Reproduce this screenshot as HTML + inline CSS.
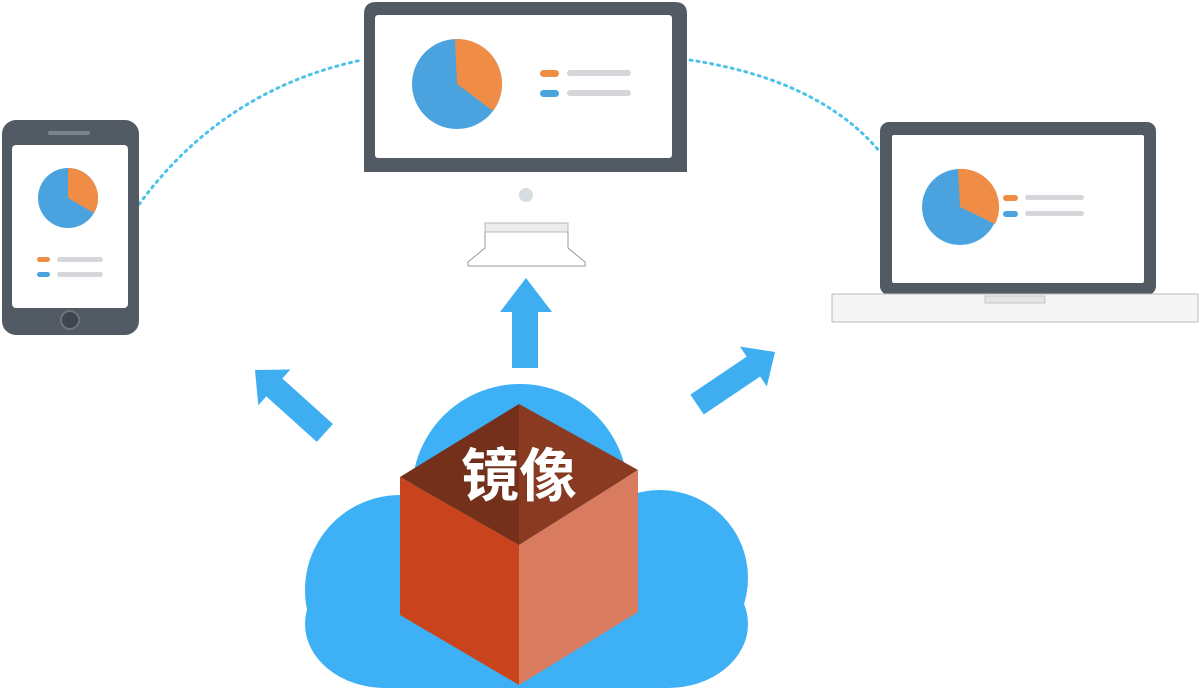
<!DOCTYPE html>
<html><head><meta charset="utf-8"><style>html,body{margin:0;padding:0;background:#fff}svg{display:block}</style></head>
<body>
<svg width="1200" height="690" viewBox="0 0 1200 690" xmlns="http://www.w3.org/2000/svg">
<!-- dotted links -->
<path d="M135 210 Q220 90 362 60" fill="none" stroke="#4cc3e8" stroke-width="3" stroke-dasharray="2 5" stroke-linecap="round"/>
<path d="M690 60 Q820 80 880 152" fill="none" stroke="#4cc3e8" stroke-width="3" stroke-dasharray="2 5" stroke-linecap="round"/>
<!-- phone -->
<rect x="2" y="120" width="137" height="215" rx="14" fill="#525a63"/>
<rect x="12" y="145" width="116" height="163" rx="4" fill="#fff"/>
<rect x="48" y="131" width="42" height="4" rx="2" fill="#7b838b"/>
<circle cx="70" cy="320" r="9" fill="#3e454c" stroke="#6b737b" stroke-width="2"/>
<circle cx="68" cy="198" r="30" fill="#4aa3de"/>
<path d="M68 198 L68 168 A30 30 0 0 1 94 213 Z" fill="#ef8c45"/>
<rect x="37" y="257" width="13" height="5" rx="2.5" fill="#ef8c45"/>
<rect x="57" y="257" width="46" height="5" rx="2.5" fill="#d4d6d9"/>
<rect x="37" y="272" width="13" height="5" rx="2.5" fill="#4aa3de"/>
<rect x="57" y="272" width="46" height="5" rx="2.5" fill="#d4d6d9"/>
<!-- monitor -->
<path d="M364 172 L364 14 Q364 2 376 2 L675 2 Q687 2 687 14 L687 172 Z" fill="#525a63"/>
<rect x="375" y="15" width="297" height="143" rx="3" fill="#fff"/>
<circle cx="457" cy="84" r="45" fill="#4aa3de"/>
<path d="M457 84 L455 39 A45 45 0 0 1 493 111 Z" fill="#ef8c45"/>
<rect x="540" y="70" width="19" height="7" rx="3.5" fill="#ef8c45"/>
<rect x="567" y="70" width="64" height="6" rx="3" fill="#d4d6d9"/>
<rect x="540" y="90" width="19" height="7" rx="3.5" fill="#4aa3de"/>
<rect x="567" y="90" width="64" height="6" rx="3" fill="#d4d6d9"/>
<circle cx="526" cy="195" r="7" fill="#d6dce0"/>
<rect x="485" y="223" width="83" height="9" fill="#ececec" stroke="#aaa" stroke-width="0.8"/>
<path d="M485 232 L485 248 L468 262 L468 266 L585 266 L585 262 L568 248 L568 232" fill="none" stroke="#999" stroke-width="1"/>
<!-- laptop -->
<rect x="880" y="122" width="276" height="173" rx="9" fill="#525a63"/>
<rect x="892" y="135" width="252" height="148" rx="2" fill="#fff"/>
<circle cx="960" cy="207" r="38" fill="#4aa3de"/>
<path d="M960 207 L958 169 A38 38 0 0 1 995 224 Z" fill="#ef8c45"/>
<rect x="1003" y="195" width="15" height="6" rx="3" fill="#ef8c45"/>
<rect x="1025" y="195" width="59" height="5" rx="2.5" fill="#d4d6d9"/>
<rect x="1003" y="211" width="15" height="6" rx="3" fill="#4aa3de"/>
<rect x="1025" y="211" width="59" height="5" rx="2.5" fill="#d4d6d9"/>
<rect x="832" y="294" width="366" height="28" fill="#f5f5f5" stroke="#bbb" stroke-width="1"/>
<rect x="985" y="296" width="60" height="7" fill="#e5e5e5" stroke="#bbb" stroke-width="0.8"/>
<!-- arrows -->
<g fill="#3eaef0">
<path d="M512 368 L512 312 L500 312 L526 278 L552 312 L538 312 L538 368 Z"/>
<g transform="translate(255,370) rotate(42)"><path d="M0 0 L26 -24 L26 -12 L94 -12 L94 12 L26 12 L26 24 Z"/></g>
<g transform="translate(775,352) rotate(-34)"><path d="M0 0 L-26 -24 L-26 -12 L-94 -12 L-94 12 L-26 12 L-26 24 Z"/></g>
</g>
<!-- cloud -->
<g fill="#3eb0f5">
<circle cx="520" cy="492" r="108"/>
<circle cx="400" cy="590" r="95"/>
<circle cx="660" cy="578" r="88"/>
<rect x="305" y="560" width="443" height="128" rx="80"/>
<rect x="400" y="520" width="260" height="168"/>
</g>
<!-- cube -->
<path d="M519 404 L400 477 L519 545 Z" fill="#74301a"/>
<path d="M519 404 L638 470 L519 545 Z" fill="#8a3a20"/>
<path d="M400 477 L519 545 L519 685 L400 615 Z" fill="#c9441d"/>
<path d="M519 545 L638 470 L638 612 L519 685 Z" fill="#d87b5f"/>
<text x="519" y="496" text-anchor="middle" font-family="'Liberation Sans','Noto Sans CJK SC',sans-serif" font-weight="bold" font-size="58" fill="#fff" stroke="#5a2412" stroke-width="0.5" style="paint-order:stroke">镜像</text>
</svg>
</body></html>
